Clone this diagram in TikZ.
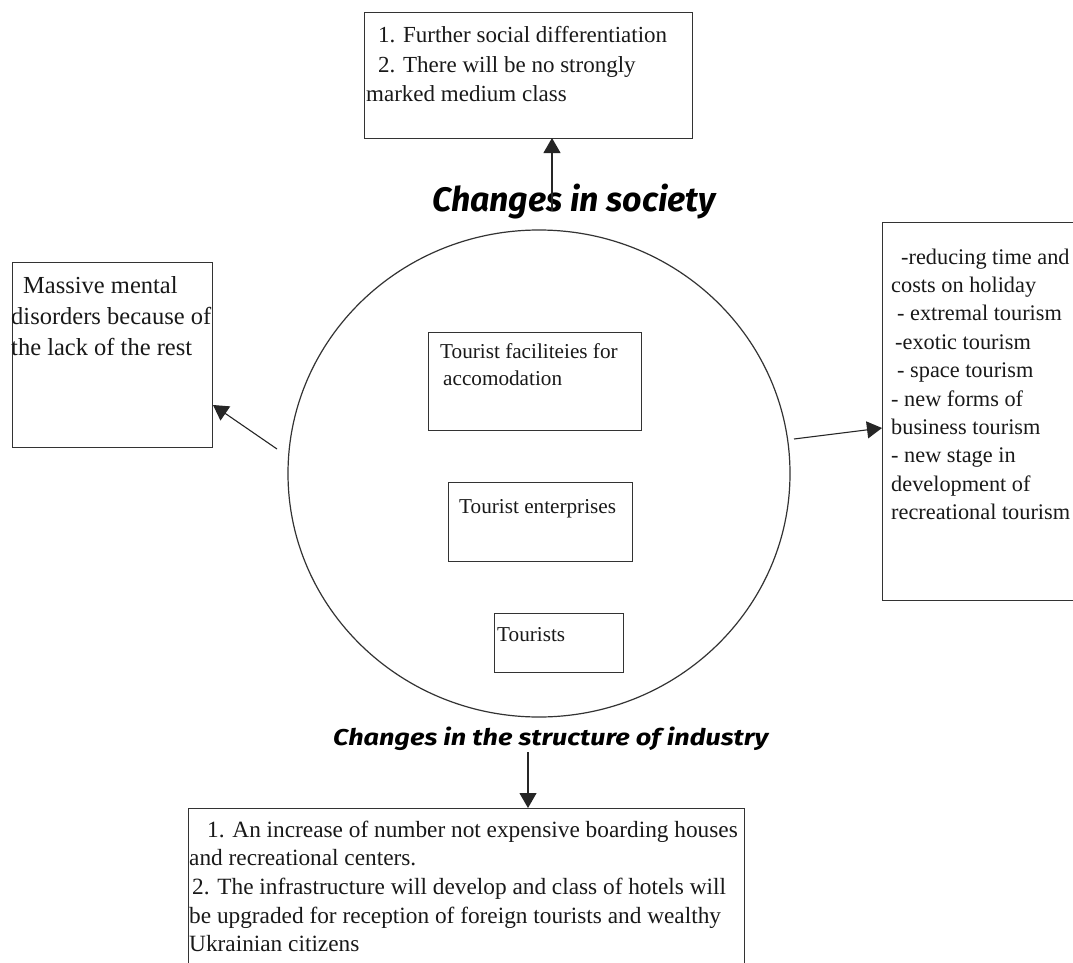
\documentclass[tikz,border=0pt]{standalone}
\usepackage{fontspec}
\setmainfont{Liberation Serif}
\newfontfamily\headfont{Fira Sans}
\usetikzlibrary{arrows.meta,shapes.geometric}
\begin{document}
\begin{tikzpicture}[x=1pt,y=-1pt,
  box/.style={draw=black!80, line width=1.2pt, inner sep=0pt, anchor=north west},
  txt/.style={inner sep=0pt, anchor=base west, text=black!90},
  head/.style={inner sep=0pt, anchor=base west, text=black},
  arr/.style={draw=black!85, line width=1.1pt, -{Triangle[width=17pt,length=15pt]}}]
\useasboundingbox (0,0) rectangle (1073,963);
\clip (0,0) rectangle (1073,963);
\fill[white] (0,0) rectangle (1073,963);

% boxes
\node[box, minimum width=328pt, minimum height=126pt] (topbox) at (364,12) {};
\node[box, minimum width=200pt, minimum height=185pt] (leftbox) at (12,262) {};
\node[box, minimum width=220pt, minimum height=378pt] (rightbox) at (882,222) {};
\node[box, minimum width=556pt, minimum height=200pt] (bottombox) at (188,808) {};

% central circle and inner boxes
\node[draw=black!80, line width=1.2pt, ellipse, minimum width=502pt, minimum height=487pt, inner sep=0pt] (circ) at (539,473.5) {};
\node[box, minimum width=213pt, minimum height=98pt] (facil) at (428,332) {};
\node[box, minimum width=184pt, minimum height=79pt] (enterp) at (448,482) {};
\node[box, minimum width=129pt, minimum height=59pt] (tourists) at (494,613) {};

% texts
\node[txt, font=\fontsize{23}{29.5}\selectfont] (topboxtext) at (366,43)
  {\vtop{\hbox{\kern12pt 1. Further social differentiation}\hbox{\kern12pt 2. There will be no strongly}\hbox{marked medium class}}};
\node[txt, font=\fontsize{24.5}{31}\selectfont] (leftboxtext) at (11,293)
  {\vtop{\hbox{\kern12pt Massive mental}\hbox{disorders because of}\hbox{the lack of the rest}}};
\node[txt, font=\fontsize{22.3}{28.4}\selectfont] (rightboxtext) at (891,264)
  {\vtop{\hbox{\kern10pt -reducing time and}\hbox{costs on holiday}\hbox{\kern6pt - extremal tourism}\hbox{\kern4pt -exotic tourism}\hbox{\kern6pt - space tourism}\hbox{- new forms of}\hbox{business tourism}\hbox{- new stage in}\hbox{development of}\hbox{recreational tourism}}};
\node[txt, font=\fontsize{21.2}{27}\selectfont] (faciltext) at (440,358)
  {\vtop{\hbox{Tourist faciliteies for}\hbox{\kern3pt accomodation}}};
\node[txt, font=\fontsize{21.2}{27}\selectfont] (enterptext) at (459,513) {Tourist enterprises};
\node[txt, font=\fontsize{21.2}{27}\selectfont] (touriststext) at (497,641) {Tourists};
\node[txt, font=\fontsize{23.3}{28.7}\selectfont] (bottomboxtext) at (189,837)
  {\vtop{\hbox{\kern18pt 1. An increase of number not expensive boarding houses}\hbox{and recreational centers.}\hbox{\kern3pt 2. The infrastructure will develop and class of hotels will}\hbox{be upgraded for reception of foreign tourists and wealthy}\hbox{Ukrainian citizens}}};

% headings
\node[head] (society) at (432,211.7)
  {\resizebox{283pt}{27.5pt}{\headfont\bfseries\itshape Changes in society}};
\node[head] (industry) at (333,745)
  {\resizebox{435pt}{18.5pt}{\headfont\bfseries\itshape Changes in the structure of industry}};

% connectors
\coordinate (upstart) at (552,211);
\coordinate (upend) at (552,138);
\coordinate (downstart) at (528,752);
\coordinate (downend) at (528,808);
\coordinate (lstart) at (277,449);
\coordinate (lend) at (213,405);
\coordinate (rstart) at (794,439);
\coordinate (rend) at (882,428);
\draw[arr] (upstart) -- (upend);
\draw[arr] (downstart) -- (downend);
\draw[arr] (lstart) -- (lend);
\draw[arr] (rstart) -- (rend);
\end{tikzpicture}
\end{document}
